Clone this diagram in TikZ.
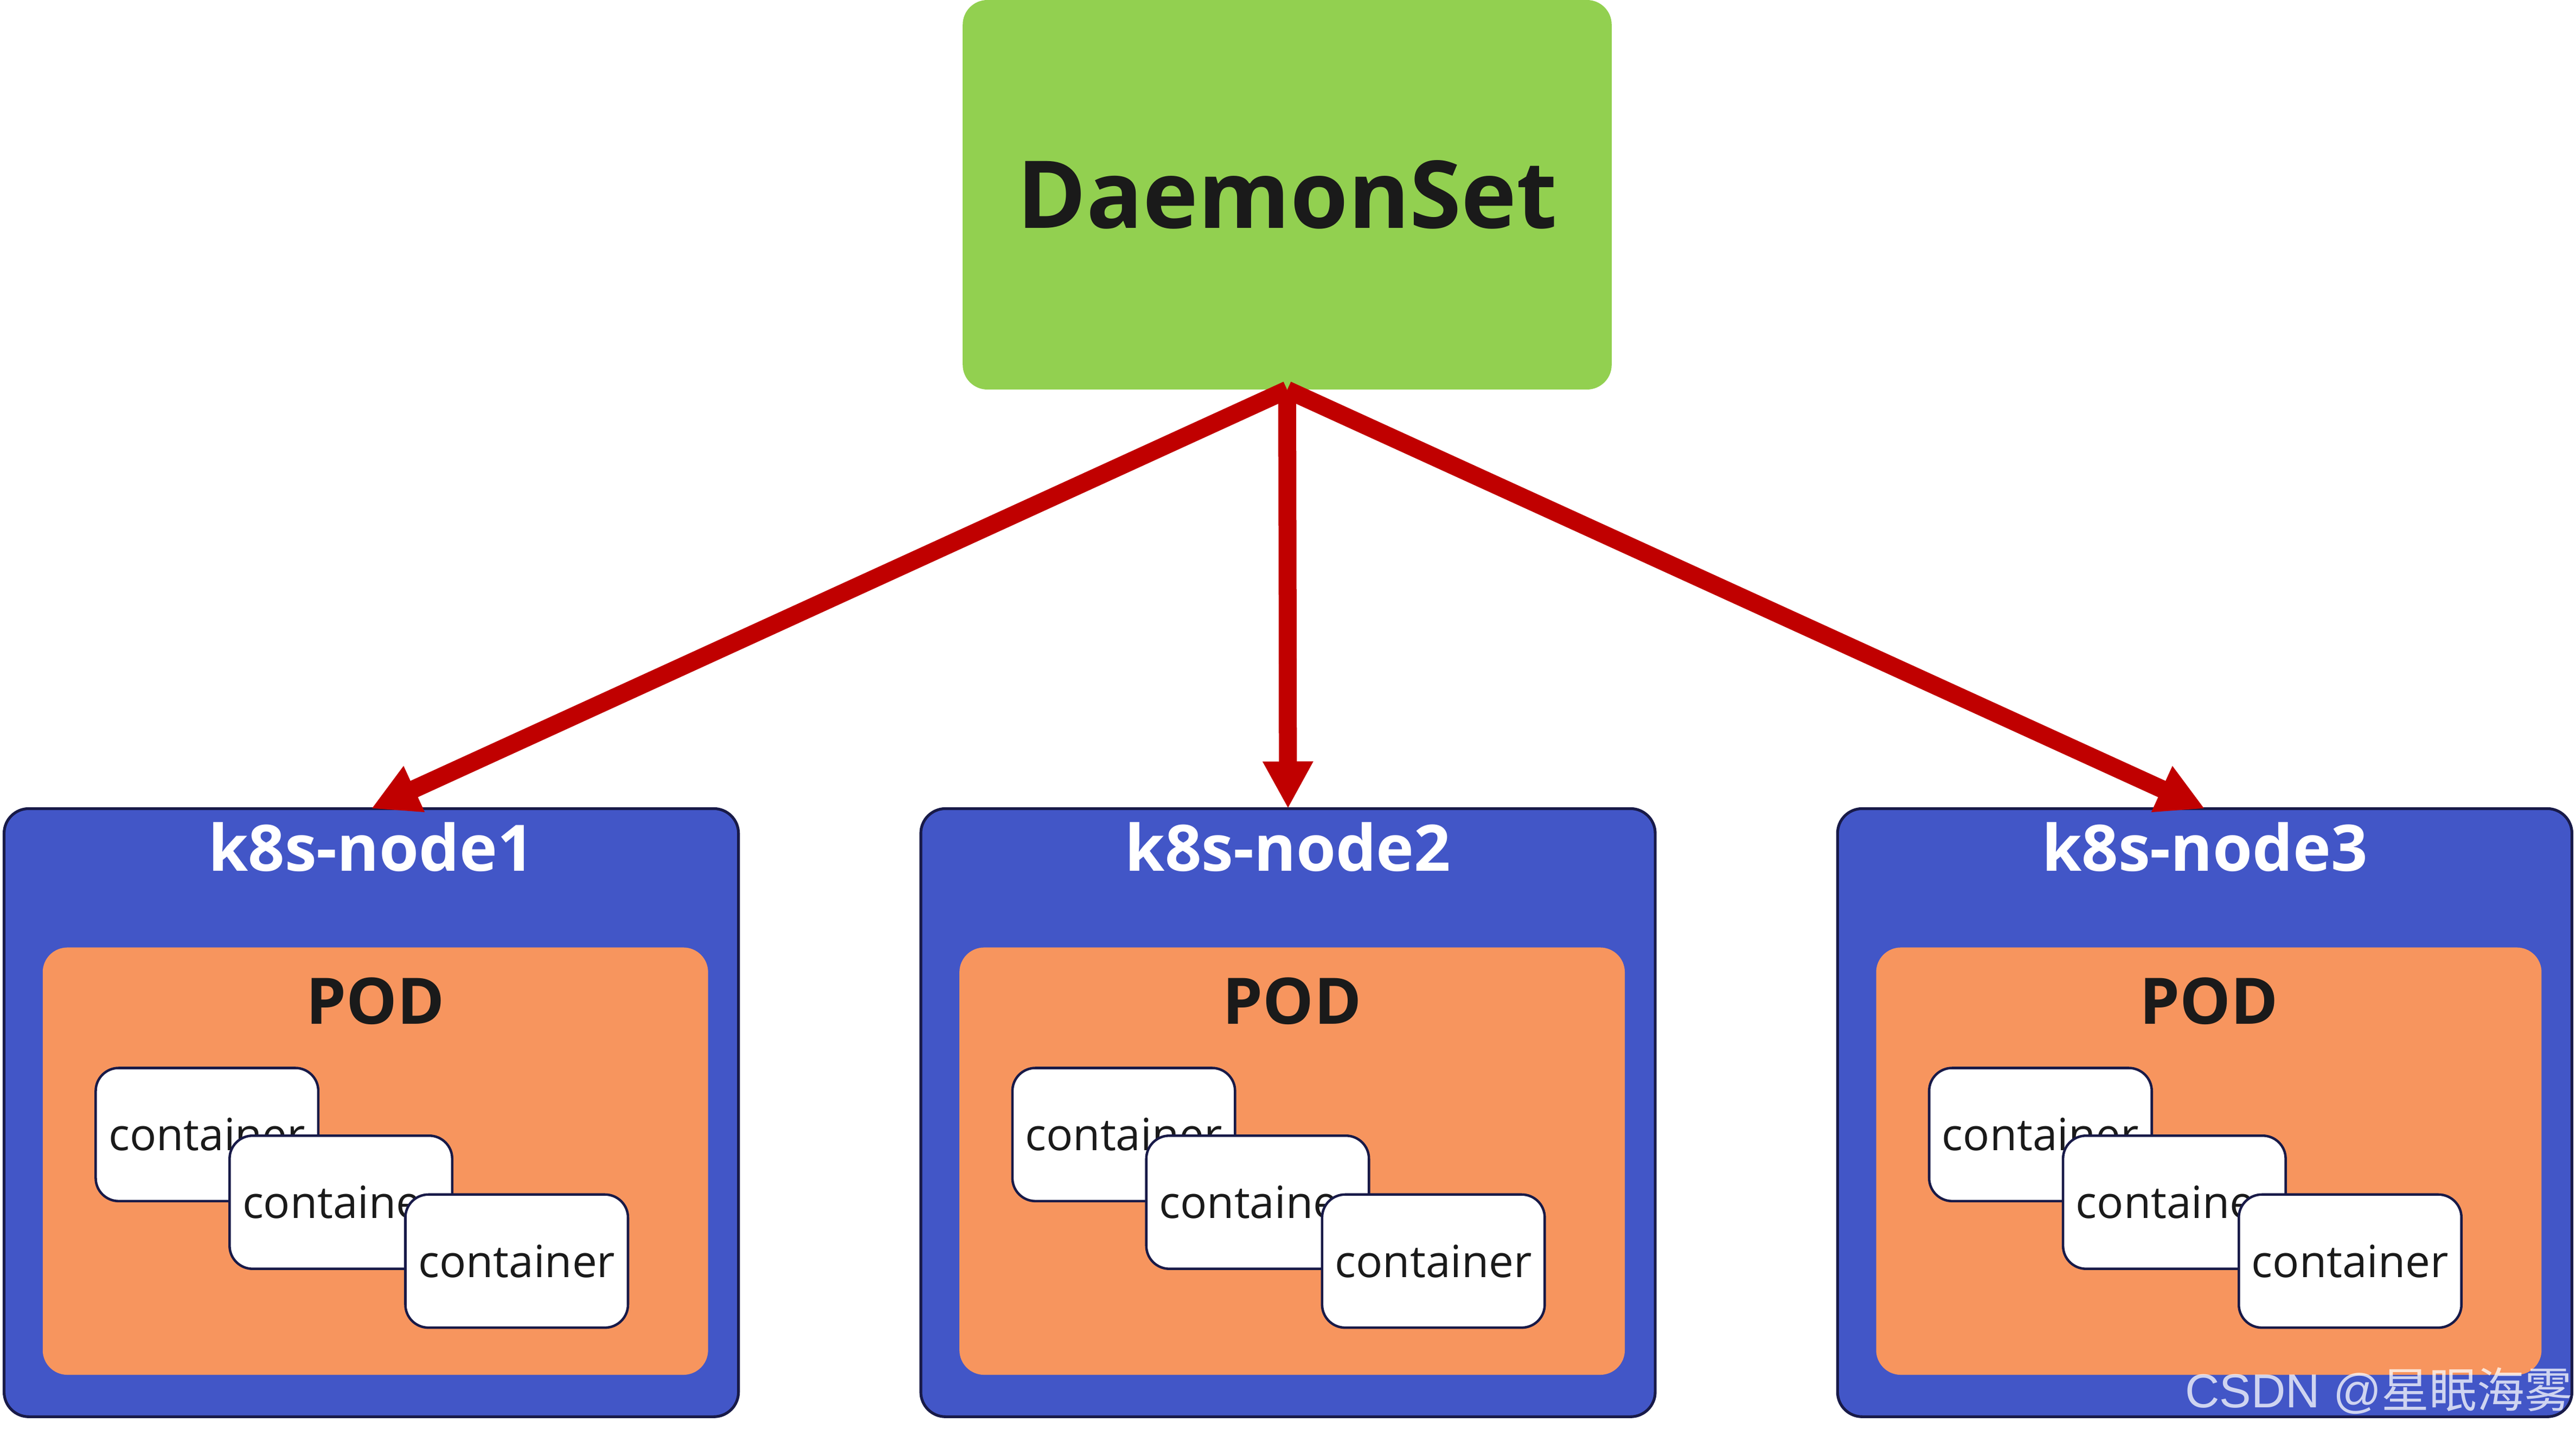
\documentclass[tikz,border=0pt]{standalone}
\usepackage{fontspec}
\setmainfont{Open Sans}
\newfontfamily\cjkfont{Noto Sans CJK SC}
\newfontfamily\markfont{Liberation Sans}
\usetikzlibrary{arrows.meta, positioning}

\definecolor{dsgreen}{HTML}{92D050}
\definecolor{hostblue}{HTML}{4256C7}
\definecolor{navyline}{HTML}{181A48}
\definecolor{podorange}{HTML}{F7955E}
\definecolor{arrowred}{HTML}{C00000}
\definecolor{inkblack}{HTML}{1A1A1A}

\begin{document}
\begin{tikzpicture}[
        x=1pt, y=-1pt,
        node distance=111pt, % gap between the k8s nodes
        dsbox/.style={fill=dsgreen, rounded corners=15pt, minimum width=395pt, minimum height=237pt, inner sep=0pt, text=inkblack, font=\bfseries\fontsize{57}{60}\selectfont},
        hostbox/.style={draw=navyline, line width=1.7pt, fill=hostblue, rounded corners=15pt, minimum width=447pt, minimum height=370pt, inner sep=0pt, outer sep=0pt},
        hosttitle/.style={anchor=base, inner sep=0pt, text=white, font=\bfseries\fontsize{39}{42}\selectfont},
        podbox/.style={fill=podorange, rounded corners=15pt, minimum width=405pt, minimum height=260pt, inner sep=0pt, outer sep=0pt},
        podtitle/.style={anchor=base, inner sep=0pt, text=inkblack, font=\bfseries\fontsize{39}{42}\selectfont},
        ctrbox/.style={draw=navyline, line width=1.5pt, fill=white, rounded corners=14pt, minimum width=135.5pt, minimum height=81pt, inner sep=0pt, text=inkblack, font=\fontsize{27}{30}\selectfont},
        arrowline/.style={draw=arrowred, line width=10.9pt, -{Triangle[length=28.7pt, width=28.7pt]}}
      ]
      \useasboundingbox (0,0) rectangle (1568,872.8);

      % Nodes
      \node (ds) [dsbox] at (783.5,118.5) {DaemonSet};

      \node (node1) [hostbox] at (226,677) {};
      \node (node2) [hostbox, right=of node1] {};
      \node (node3) [hostbox, right=of node2] {};

      \node (title1) [hosttitle] at ([yshift=-38pt]node1.north) {k8s-node1};
      \node (title2) [hosttitle] at ([yshift=-38pt]node2.north) {k8s-node2};
      \node (title3) [hosttitle] at ([yshift=-38pt]node3.north) {k8s-node3};

      \node (pod1) [podbox, below=84.5pt of node1.north, xshift=2.5pt] {};
      \node (pod2) [podbox, below=84.5pt of node2.north, xshift=2.5pt] {};
      \node (pod3) [podbox, below=84.5pt of node3.north, xshift=2.5pt] {};

      \node (podt1) [podtitle] at ([yshift=-46.5pt]pod1.north) {POD};
      \node (podt2) [podtitle] at ([yshift=-46.5pt]pod2.north) {POD};
      \node (podt3) [podtitle] at ([yshift=-46.5pt]pod3.north) {POD};

      % Containers, stacked
      \node (ctr1a) [ctrbox] at ([xshift=-100pt, yshift=-13.3pt]node1.center) {container};
      \node (ctr1b) [ctrbox] at ([xshift=81.5pt, yshift=-41.2pt]ctr1a.center) {container};
      \node (ctr1c) [ctrbox] at ([xshift=107pt, yshift=-35.8pt]ctr1b.center) {container};

      \node (ctr2a) [ctrbox] at ([xshift=-100pt, yshift=-13.3pt]node2.center) {container};
      \node (ctr2b) [ctrbox] at ([xshift=81.5pt, yshift=-41.2pt]ctr2a.center) {container};
      \node (ctr2c) [ctrbox] at ([xshift=107pt, yshift=-35.8pt]ctr2b.center) {container};

      \node (ctr3a) [ctrbox] at ([xshift=-100pt, yshift=-13.3pt]node3.center) {container};
      \node (ctr3b) [ctrbox] at ([xshift=81.5pt, yshift=-41.2pt]ctr3a.center) {container};
      \node (ctr3c) [ctrbox] at ([xshift=107pt, yshift=-35.8pt]ctr3b.center) {container};

      % Arrows
      \draw [arrowline] (ds.south) -- (node1.north);
      \draw [arrowline] (ds.south) -- (node2.north);
      \draw [arrowline] (ds.south) -- (node3.north);

      % Watermark
      \node (mark) [anchor=base east, inner sep=0pt, text=white, text opacity=0.75, font=\markfont\fontsize{29}{30}\selectfont] at (1566,856.5) {CSDN @{\cjkfont 星眠海雾}};

    \end{tikzpicture}
\end{document}
